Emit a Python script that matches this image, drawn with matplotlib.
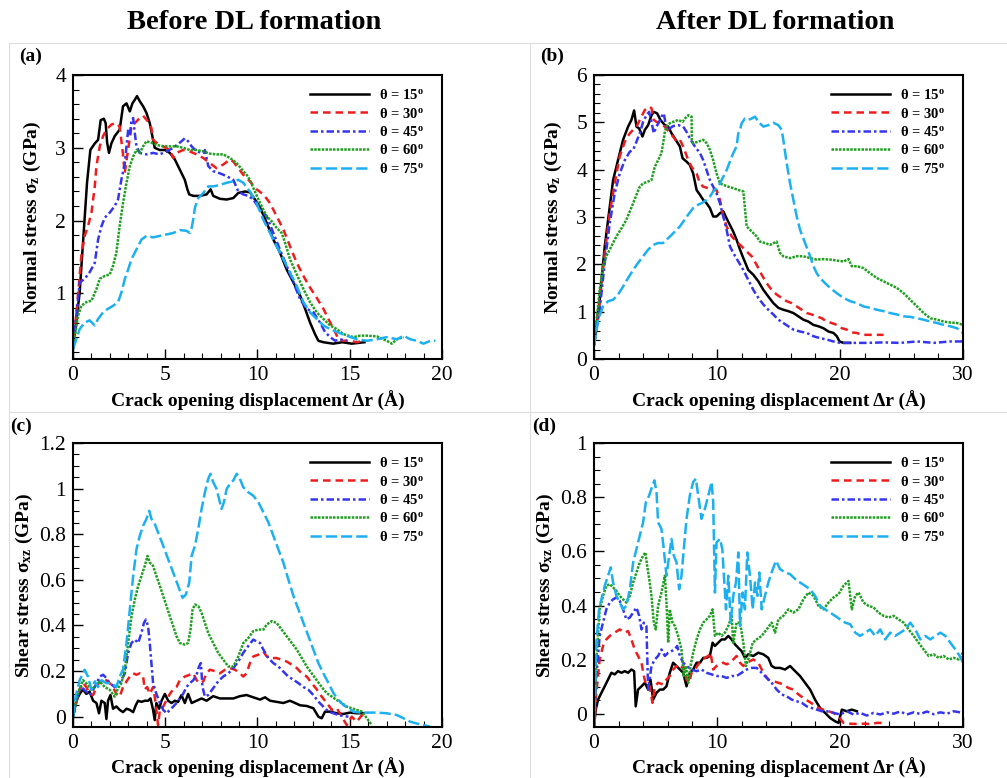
import matplotlib
matplotlib.use("Agg")
import matplotlib.pyplot as plt
from matplotlib.ticker import MultipleLocator, AutoMinorLocator
from matplotlib.lines import Line2D

plt.rcParams['font.family'] = ['Liberation Serif', 'DejaVu Serif']
plt.rcParams['mathtext.fontset'] = 'custom'
plt.rcParams['mathtext.rm'] = 'Liberation Serif'
plt.rcParams['mathtext.it'] = 'Liberation Serif:italic'
plt.rcParams['mathtext.bf'] = 'Liberation Serif:bold'

angles = [15, 30, 45, 60, 75]

# ---- (a) normal stress, before DL formation
a_x15 = [0, 0.36, 0.76, 0.94, 1.18, 1.36, 1.5, 1.67, 1.77, 1.85, 1.95, 2.08, 2.26, 2.53, 2.71, 2.9, 3.08, 3.22, 3.35, 3.47, 3.62, 3.8, 3.98, 4.16, 4.34, 4.43, 4.7, 4.98, 5.25, 5.52, 5.79, 6.06, 6.2, 6.3, 6.52, 6.88, 7.24, 7.46, 7.6, 7.96, 8.33, 8.69, 8.96, 9.32, 9.59, 9.86, 10.14, 10.5, 10.86, 11.22, 11.58, 11.95, 12.31, 12.58, 12.85, 13.12, 13.3, 13.57, 14.1, 14.6, 15.1, 15.8]
a_y15 = [0.24, 1.01, 2.52, 2.97, 3.06, 3.11, 3.38, 3.40, 3.34, 3.07, 2.93, 3.06, 3.16, 3.25, 3.57, 3.61, 3.50, 3.61, 3.66, 3.71, 3.64, 3.57, 3.48, 3.34, 3.11, 3.0, 2.97, 2.97, 2.93, 2.84, 2.70, 2.56, 2.43, 2.36, 2.34, 2.34, 2.36, 2.43, 2.34, 2.30, 2.29, 2.31, 2.38, 2.40, 2.39, 2.29, 2.18, 1.97, 1.74, 1.56, 1.33, 1.15, 0.97, 0.79, 0.6, 0.44, 0.35, 0.33, 0.31, 0.33, 0.31, 0.33]
a_x30 = [0, 0.22, 0.45, 0.63, 0.81, 1.0, 1.18, 1.27, 1.45, 1.63, 1.81, 2.08, 2.35, 2.53, 2.71, 2.8, 3.17, 3.62, 3.8, 4.07, 4.25, 4.34, 4.52, 4.89, 5.25, 5.43, 5.61, 5.97, 6.33, 6.7, 7.06, 7.42, 7.78, 8.14, 8.51, 8.69, 8.96, 9.23, 9.59, 9.95, 10.32, 10.68, 11.04, 11.4, 11.76, 12.13, 12.49, 12.85, 13.21, 13.57, 13.94, 14.21, 14.39, 14.66, 15.0, 15.38, 15.75]
a_y30 = [0.24, 0.83, 1.51, 1.79, 1.92, 2.11, 2.47, 2.75, 3.02, 3.16, 3.25, 3.32, 3.34, 3.29, 2.91, 2.65, 3.29, 3.41, 3.44, 3.36, 3.27, 3.11, 3.07, 3.02, 2.97, 2.86, 2.93, 2.97, 2.95, 2.91, 2.86, 2.79, 2.72, 2.77, 2.84, 2.81, 2.72, 2.63, 2.54, 2.43, 2.36, 2.24, 2.06, 1.88, 1.65, 1.42, 1.24, 1.08, 0.94, 0.79, 0.60, 0.47, 0.37, 0.35, 0.35, 0.33, 0.35]
a_x45 = [0, 0.14, 0.36, 0.63, 0.9, 1.18, 1.36, 1.54, 1.72, 1.99, 2.26, 2.44, 2.62, 2.81, 2.99, 3.08, 3.17, 3.26, 3.35, 3.44, 3.62, 3.98, 4.34, 4.7, 5.07, 5.43, 5.79, 6.06, 6.24, 6.43, 6.7, 7.06, 7.15, 7.33, 7.6, 7.96, 8.33, 8.69, 8.96, 9.23, 9.5, 9.77, 10.14, 10.5, 10.86, 11.22, 11.58, 11.95, 12.31, 12.67, 13.03, 13.39, 13.66, 13.94, 14.21, 14.48, 14.84]
a_y45 = [0.24, 0.6, 1.15, 1.2, 1.29, 1.42, 1.74, 1.92, 2.04, 2.11, 2.2, 2.29, 2.56, 2.79, 3.25, 3.16, 3.38, 3.41, 3.2, 3.02, 2.93, 2.91, 2.93, 2.91, 2.95, 3.0, 3.07, 3.13, 3.09, 3.02, 2.95, 2.93, 2.97, 2.75, 2.68, 2.65, 2.61, 2.56, 2.4, 2.36, 2.34, 2.29, 2.15, 2.06, 1.83, 1.6, 1.38, 1.15, 0.92, 0.79, 0.74, 0.6, 0.47, 0.4, 0.35, 0.37, 0.35]
a_x60 = [0, 0.27, 0.45, 0.72, 1.0, 1.27, 1.45, 1.72, 1.99, 2.17, 2.35, 2.53, 2.71, 2.9, 3.08, 3.26, 3.44, 3.62, 3.8, 3.98, 4.25, 4.52, 4.89, 5.25, 5.61, 5.97, 6.33, 6.7, 7.06, 7.42, 7.78, 8.14, 8.51, 8.87, 9.23, 9.41, 9.59, 9.77, 10.05, 10.32, 10.5, 10.77, 11.04, 11.31, 11.49, 11.76, 12.13, 12.49, 12.85, 13.21, 13.57, 13.94, 14.3, 14.66, 15.2, 15.57, 15.93, 16.47, 17.01, 17.28, 17.56, 17.92]
a_y60 = [0.24, 0.69, 0.83, 0.88, 0.9, 1.06, 1.2, 1.24, 1.26, 1.38, 1.56, 1.93, 2.24, 2.52, 2.75, 2.88, 2.97, 2.93, 3.02, 3.09, 3.07, 3.04, 3.02, 3.02, 3.02, 3.0, 2.97, 2.97, 2.95, 2.92, 2.91, 2.91, 2.86, 2.79, 2.68, 2.63, 2.56, 2.45, 2.29, 2.15, 2.06, 1.99, 1.9, 1.83, 1.7, 1.47, 1.26, 1.06, 0.88, 0.74, 0.65, 0.56, 0.51, 0.44, 0.4, 0.42, 0.42, 0.41, 0.35, 0.31, 0.37, 0.4]
a_x75 = [0, 0.18, 0.36, 0.63, 0.9, 1.18, 1.36, 1.63, 1.9, 2.17, 2.44, 2.62, 2.81, 2.99, 3.17, 3.35, 3.53, 3.71, 3.98, 4.34, 4.7, 5.07, 5.43, 5.79, 6.15, 6.33, 6.43, 6.52, 6.61, 6.79, 7.06, 7.33, 7.6, 7.96, 8.33, 8.69, 8.96, 9.23, 9.59, 9.95, 10.32, 10.68, 11.04, 11.4, 11.76, 12.13, 12.49, 12.85, 13.21, 13.57, 13.94, 14.3, 14.84, 15.38, 15.93, 16.47, 17.01, 17.56, 17.92, 18.28, 18.64, 19.0, 19.37, 19.64]
a_y75 = [0.24, 0.37, 0.51, 0.6, 0.63, 0.56, 0.65, 0.74, 0.79, 0.83, 0.88, 1.01, 1.2, 1.33, 1.47, 1.56, 1.65, 1.74, 1.79, 1.77, 1.79, 1.81, 1.83, 1.87, 1.86, 1.83, 1.9, 2.02, 2.18, 2.31, 2.38, 2.47, 2.47, 2.49, 2.52, 2.54, 2.56, 2.52, 2.4, 2.24, 2.01, 1.83, 1.65, 1.47, 1.29, 1.1, 0.88, 0.74, 0.65, 0.56, 0.51, 0.47, 0.42, 0.37, 0.35, 0.37, 0.4, 0.37, 0.42, 0.37, 0.35, 0.31, 0.35, 0.35]

# ---- (b) normal stress, after DL formation
b_x15 = [0, 0.46, 0.87, 1.28, 1.55, 1.95, 2.36, 2.77, 3.04, 3.26, 3.45, 3.67, 3.94, 4.13, 4.4, 4.67, 4.86, 5.13, 5.4, 5.76, 6.03, 6.3, 6.57, 6.98, 7.2, 7.52, 7.79, 8.06, 8.34, 8.61, 8.88, 9.15, 9.42, 9.69, 9.96, 10.24, 10.51, 10.78, 11.05, 11.32, 11.59, 11.87, 12.14, 12.54, 12.95, 13.36, 13.77, 14.17, 14.58, 14.99, 15.39, 15.8, 16.21, 16.62, 17.02, 17.43, 17.84, 18.25, 18.65, 19.06, 19.47, 19.74, 19.96, 20.28, 20.83]
b_y15 = [0.3, 1.25, 2.38, 3.22, 3.78, 4.2, 4.63, 4.91, 5.05, 5.25, 4.91, 4.87, 4.7, 4.84, 4.94, 5.15, 5.22, 5.19, 5.05, 4.94, 4.91, 4.77, 4.66, 4.49, 4.24, 4.17, 4.1, 3.92, 3.57, 3.47, 3.36, 3.29, 3.19, 3.01, 3.01, 3.08, 3.12, 2.97, 2.83, 2.69, 2.52, 2.31, 2.13, 1.88, 1.78, 1.64, 1.46, 1.32, 1.18, 1.08, 1.04, 1.01, 0.97, 0.9, 0.83, 0.79, 0.72, 0.69, 0.65, 0.58, 0.55, 0.48, 0.37, 0.34, 0.34]
b_x30 = [0, 0.46, 0.87, 1.28, 1.68, 2.09, 2.5, 2.91, 3.18, 3.45, 3.72, 4.13, 4.48, 4.67, 4.86, 5.08, 5.35, 5.62, 5.89, 6.16, 6.43, 6.71, 6.98, 7.25, 7.66, 7.93, 8.34, 8.61, 8.88, 9.29, 9.69, 9.96, 10.24, 10.51, 10.78, 11.19, 11.59, 12.0, 12.41, 12.82, 13.22, 13.63, 14.04, 14.44, 14.85, 15.26, 15.67, 16.07, 16.48, 16.89, 17.3, 17.7, 18.11, 18.52, 18.92, 19.33, 19.74, 20.15, 20.55, 20.96, 21.37, 21.78, 22.18, 22.73, 23.54]
b_y30 = [0.3, 1.18, 2.24, 3.08, 3.71, 4.28, 4.59, 4.77, 4.84, 4.91, 5.05, 5.26, 5.33, 5.3, 5.05, 5.01, 4.98, 4.94, 4.87, 4.77, 4.7, 4.59, 4.63, 4.49, 4.2, 4.06, 3.92, 3.71, 3.64, 3.61, 3.57, 3.57, 3.36, 3.01, 2.8, 2.59, 2.48, 2.38, 2.27, 2.17, 1.99, 1.78, 1.6, 1.46, 1.36, 1.29, 1.22, 1.18, 1.11, 1.04, 0.97, 0.94, 0.9, 0.86, 0.79, 0.76, 0.72, 0.65, 0.62, 0.56, 0.55, 0.51, 0.51, 0.51, 0.51]
b_x45 = [0, 0.46, 0.87, 1.28, 1.68, 2.09, 2.5, 2.91, 3.18, 3.45, 3.72, 3.99, 4.26, 4.48, 4.67, 4.86, 5.08, 5.29, 5.48, 5.67, 5.89, 6.16, 6.43, 6.84, 7.25, 7.52, 7.79, 8.2, 8.61, 8.88, 9.15, 9.42, 9.69, 9.96, 10.24, 10.51, 10.78, 11.05, 11.32, 11.73, 12.14, 12.54, 12.95, 13.36, 13.77, 14.17, 14.58, 14.99, 15.39, 15.8, 16.21, 16.75, 17.3, 17.84, 18.38, 18.92, 19.47, 20.01, 22.18, 23.54, 24.9, 26.26, 27.61, 28.97, 30.0]
b_y45 = [0.3, 1.04, 2.03, 2.87, 3.5, 3.92, 4.2, 4.38, 4.42, 4.59, 4.77, 5.01, 5.15, 5.22, 5.01, 4.77, 4.91, 5.01, 5.12, 5.19, 4.87, 4.87, 4.92, 4.94, 4.91, 4.8, 4.66, 4.49, 4.35, 4.2, 3.99, 3.78, 3.64, 3.5, 3.29, 3.01, 2.73, 2.38, 2.24, 2.06, 1.88, 1.67, 1.46, 1.29, 1.15, 1.04, 0.94, 0.83, 0.76, 0.69, 0.62, 0.58, 0.55, 0.48, 0.44, 0.41, 0.37, 0.34, 0.34, 0.35, 0.34, 0.37, 0.34, 0.37, 0.37]
b_x60 = [0, 0.46, 0.73, 1.0, 1.41, 1.82, 2.23, 2.63, 2.91, 3.18, 3.45, 3.72, 3.99, 4.4, 4.67, 4.94, 5.21, 5.48, 5.62, 5.76, 5.89, 6.16, 6.43, 6.84, 7.2, 7.39, 7.66, 7.93, 7.95, 8.06, 8.47, 8.88, 9.15, 9.42, 9.69, 9.96, 10.24, 10.51, 10.91, 11.32, 11.73, 12.14, 12.41, 12.68, 12.95, 13.22, 13.49, 13.9, 14.31, 14.85, 15.12, 15.39, 15.94, 16.48, 17.02, 17.57, 18.11, 18.65, 19.2, 19.74, 20.28, 20.69, 20.96, 21.37, 21.91, 22.45, 23.0, 23.54, 24.08, 24.63, 25.17, 25.71, 26.26, 26.8, 27.34, 27.89, 28.43, 28.97, 29.51, 30.0]
b_y60 = [0.3, 1.46, 1.96, 2.17, 2.38, 2.59, 2.76, 2.94, 3.12, 3.29, 3.47, 3.64, 3.71, 3.75, 3.78, 4.06, 4.2, 4.35, 4.56, 4.8, 4.91, 4.98, 5.01, 5.05, 5.01, 5.08, 5.15, 5.12, 4.63, 4.56, 4.59, 4.63, 4.56, 4.42, 4.2, 3.92, 3.71, 3.68, 3.64, 3.61, 3.57, 3.54, 2.8, 2.73, 2.66, 2.59, 2.48, 2.45, 2.41, 2.48, 2.24, 2.17, 2.13, 2.17, 2.17, 2.13, 2.1, 2.11, 2.1, 2.08, 2.06, 2.11, 1.96, 1.96, 1.92, 1.81, 1.71, 1.64, 1.57, 1.5, 1.39, 1.25, 1.11, 0.97, 0.86, 0.83, 0.79, 0.77, 0.76, 0.72]
b_x75 = [0, 0.33, 0.73, 1.14, 1.55, 1.95, 2.36, 2.77, 3.18, 3.58, 3.99, 4.4, 4.81, 5.21, 5.62, 5.89, 6.3, 6.71, 6.98, 7.25, 7.66, 8.06, 8.47, 8.74, 9.15, 9.42, 9.69, 9.96, 10.24, 10.51, 10.78, 11.05, 11.32, 11.59, 11.73, 11.87, 12.0, 12.27, 12.54, 12.82, 13.09, 13.36, 13.77, 14.17, 14.58, 14.99, 15.26, 15.39, 15.67, 15.94, 16.21, 16.48, 16.75, 17.16, 17.57, 17.84, 18.11, 18.38, 18.79, 19.2, 19.74, 20.28, 20.83, 21.37, 21.91, 22.45, 23.0, 23.54, 24.08, 24.63, 25.17, 25.71, 26.26, 26.8, 27.34, 27.89, 28.43, 28.97, 29.51, 30.0]
b_y75 = [0.27, 0.83, 1.11, 1.22, 1.25, 1.36, 1.53, 1.71, 1.88, 2.03, 2.17, 2.31, 2.41, 2.45, 2.45, 2.52, 2.62, 2.73, 2.8, 2.9, 3.05, 3.19, 3.26, 3.29, 3.36, 3.43, 3.54, 3.61, 3.71, 3.85, 3.99, 4.17, 4.35, 4.49, 4.77, 4.84, 4.98, 5.08, 5.05, 5.08, 5.12, 5.01, 4.91, 4.94, 4.99, 4.94, 4.84, 4.63, 4.13, 3.71, 3.36, 3.01, 2.73, 2.45, 2.17, 1.96, 1.81, 1.71, 1.6, 1.5, 1.39, 1.29, 1.22, 1.18, 1.11, 1.08, 1.04, 1.01, 0.97, 0.94, 0.9, 0.89, 0.86, 0.83, 0.79, 0.76, 0.72, 0.69, 0.65, 0.55]

# ---- (c) shear stress, before DL formation
c_x15 = [0, 0.18, 0.36, 0.54, 0.72, 0.9, 1.09, 1.27, 1.41, 1.54, 1.72, 1.81, 1.9, 2.03, 2.17, 2.35, 2.53, 2.71, 2.9, 3.08, 3.26, 3.4, 3.53, 3.71, 3.89, 4.07, 4.2, 4.34, 4.43, 4.52, 4.67, 4.8, 4.98, 5.16, 5.34, 5.52, 5.7, 5.88, 6.06, 6.24, 6.43, 6.7, 6.97, 7.24, 7.6, 7.96, 8.33, 8.69, 9.05, 9.41, 9.77, 10.14, 10.41, 10.68, 11.04, 11.4, 11.76, 12.04, 12.31, 12.67, 13.03, 13.3, 13.48, 13.66, 13.94, 14.3, 14.66, 15.02, 15.38, 15.75]
c_y15 = [0.0, 0.07, 0.1, 0.12, 0.1, 0.11, 0.07, 0.06, 0.015, 0.07, 0.06, -0.01, 0.07, 0.095, 0.035, 0.045, 0.03, 0.02, 0.035, 0.03, 0.02, 0.05, 0.07, 0.065, 0.07, 0.07, 0.08, 0.03, -0.015, 0.06, 0.035, 0.07, 0.1, 0.07, 0.06, 0.07, 0.065, 0.095, 0.06, 0.1, 0.06, 0.07, 0.08, 0.07, 0.09, 0.08, 0.08, 0.08, 0.09, 0.095, 0.085, 0.075, 0.085, 0.07, 0.065, 0.06, 0.07, 0.06, 0.05, 0.047, 0.037, 0.0, -0.007, 0.022, 0.022, 0.015, 0.012, 0.018, 0.015, 0.015]
c_x30 = [0, 0.18, 0.36, 0.54, 0.72, 0.9, 1.09, 1.27, 1.45, 1.63, 1.81, 1.99, 2.17, 2.35, 2.53, 2.71, 2.9, 3.08, 3.26, 3.44, 3.62, 3.8, 3.89, 4.02, 4.16, 4.34, 4.43, 4.52, 4.61, 4.71, 4.89, 5.07, 5.25, 5.43, 5.61, 5.79, 6.06, 6.33, 6.52, 6.7, 6.88, 7.06, 7.24, 7.42, 7.69, 7.96, 8.24, 8.51, 8.78, 9.05, 9.23, 9.41, 9.59, 9.77, 10.05, 10.32, 10.5, 10.77, 11.04, 11.31, 11.58, 11.86, 12.13, 12.4, 12.67, 12.94, 13.21, 13.48, 13.76, 14.03, 14.3, 14.57, 14.84, 15.11, 15.38, 15.66, 15.84]
c_y30 = [0.0, 0.06, 0.12, 0.15, 0.13, 0.1, 0.095, 0.13, 0.155, 0.147, 0.16, 0.147, 0.13, 0.1, 0.088, 0.13, 0.155, 0.176, 0.19, 0.184, 0.19, 0.176, 0.12, 0.13, 0.1, 0.13, 0.088, 0.03, -0.037, 0.03, 0.044, 0.073, 0.1, 0.12, 0.13, 0.16, 0.176, 0.184, 0.19, 0.16, 0.147, 0.155, 0.19, 0.206, 0.2, 0.19, 0.206, 0.213, 0.206, 0.19, 0.176, 0.19, 0.235, 0.264, 0.272, 0.286, 0.264, 0.257, 0.257, 0.25, 0.242, 0.228, 0.213, 0.19, 0.176, 0.147, 0.12, 0.088, 0.06, 0.03, 0.037, 0.0, -0.037, 0.0, -0.022, 0.007, 0.0]
c_x45 = [0, 0.18, 0.45, 0.72, 0.9, 1.18, 1.45, 1.63, 1.81, 1.99, 2.26, 2.53, 2.81, 2.99, 3.17, 3.35, 3.53, 3.71, 3.84, 3.95, 4.07, 4.16, 4.25, 4.34, 4.52, 4.71, 4.89, 5.07, 5.25, 5.43, 5.61, 5.79, 5.97, 6.15, 6.33, 6.52, 6.7, 6.83, 6.93, 7.02, 7.15, 7.33, 7.6, 7.87, 8.14, 8.42, 8.69, 8.96, 9.23, 9.5, 9.77, 9.95, 10.14, 10.32, 10.59, 10.86, 11.13, 11.4, 11.67, 11.95, 12.22, 12.49, 12.76, 13.03, 13.3, 13.57, 13.85, 14.12, 14.39, 14.66, 14.93]
c_y45 = [0.0, 0.073, 0.13, 0.11, 0.095, 0.13, 0.176, 0.184, 0.169, 0.147, 0.13, 0.147, 0.19, 0.28, 0.323, 0.338, 0.323, 0.367, 0.41, 0.426, 0.397, 0.323, 0.235, 0.147, 0.1, 0.06, 0.03, 0.015, 0.03, 0.044, 0.06, 0.08, 0.1, 0.13, 0.147, 0.16, 0.184, 0.22, 0.235, 0.13, 0.088, 0.095, 0.125, 0.155, 0.176, 0.19, 0.213, 0.242, 0.28, 0.31, 0.338, 0.33, 0.323, 0.294, 0.257, 0.235, 0.22, 0.198, 0.176, 0.162, 0.147, 0.13, 0.118, 0.095, 0.066, 0.044, 0.022, 0.015, 0.007, 0.003, 0.0]
c_x60 = [0, 0.18, 0.36, 0.54, 0.72, 1.0, 1.27, 1.45, 1.72, 1.99, 2.26, 2.44, 2.62, 2.81, 2.99, 3.17, 3.35, 3.53, 3.71, 3.89, 4.04, 4.16, 4.34, 4.52, 4.71, 4.89, 5.07, 5.25, 5.43, 5.61, 5.79, 6.06, 6.24, 6.37, 6.48, 6.61, 6.79, 6.97, 7.15, 7.33, 7.6, 7.87, 8.14, 8.42, 8.69, 8.96, 9.23, 9.5, 9.77, 10.05, 10.32, 10.5, 10.77, 11.04, 11.31, 11.58, 11.86, 12.13, 12.4, 12.67, 12.94, 13.21, 13.48, 13.76, 14.03, 14.3, 14.57, 14.84, 15.11, 15.38, 15.66, 15.93, 16.2]
c_y60 = [0.0, 0.073, 0.125, 0.16, 0.147, 0.118, 0.14, 0.155, 0.13, 0.118, 0.088, 0.125, 0.147, 0.206, 0.323, 0.44, 0.514, 0.573, 0.617, 0.661, 0.705, 0.676, 0.661, 0.617, 0.573, 0.529, 0.485, 0.44, 0.397, 0.353, 0.323, 0.316, 0.323, 0.382, 0.47, 0.492, 0.485, 0.455, 0.411, 0.367, 0.323, 0.28, 0.25, 0.22, 0.22, 0.264, 0.323, 0.345, 0.375, 0.382, 0.382, 0.404, 0.419, 0.411, 0.382, 0.353, 0.323, 0.294, 0.257, 0.22, 0.19, 0.16, 0.13, 0.103, 0.088, 0.073, 0.06, 0.044, 0.037, 0.03, 0.022, -0.007, -0.037]
c_x75 = [0, 0.14, 0.36, 0.63, 0.81, 1.0, 1.18, 1.36, 1.54, 1.81, 2.08, 2.35, 2.53, 2.71, 2.9, 3.08, 3.26, 3.44, 3.62, 3.8, 3.98, 4.13, 4.25, 4.43, 4.61, 4.89, 5.16, 5.43, 5.7, 5.94, 6.12, 6.3, 6.43, 6.61, 6.79, 6.97, 7.15, 7.33, 7.45, 7.6, 7.78, 7.96, 8.05, 8.18, 8.33, 8.51, 8.69, 8.87, 9.01, 9.23, 9.5, 9.77, 10.05, 10.32, 10.59, 10.86, 11.13, 11.4, 11.67, 11.95, 12.22, 12.49, 12.76, 13.03, 13.3, 13.57, 13.85, 14.12, 14.39, 14.66, 14.93, 15.2, 15.57, 15.93, 16.47, 17.01, 17.56, 17.92, 18.28, 18.64, 19.0, 19.37]
c_y75 = [0.0, 0.088, 0.16, 0.206, 0.176, 0.118, 0.155, 0.13, 0.16, 0.147, 0.147, 0.13, 0.176, 0.206, 0.323, 0.47, 0.617, 0.734, 0.793, 0.837, 0.867, 0.903, 0.867, 0.845, 0.808, 0.749, 0.69, 0.632, 0.573, 0.521, 0.536, 0.588, 0.705, 0.749, 0.823, 0.911, 0.984, 1.043, 1.065, 1.028, 0.999, 0.94, 0.911, 0.94, 0.999, 1.021, 1.036, 1.065, 1.05, 1.006, 0.984, 0.969, 0.94, 0.896, 0.852, 0.793, 0.734, 0.676, 0.602, 0.529, 0.47, 0.411, 0.353, 0.294, 0.235, 0.19, 0.147, 0.103, 0.073, 0.051, 0.037, 0.022, 0.018, 0.018, 0.018, 0.015, 0.007, -0.007, -0.022, -0.03, -0.037, -0.044]

# ---- (d) shear stress, after DL formation
d_x15 = [0, 0.14, 0.33, 0.6, 0.87, 1.14, 1.41, 1.68, 1.95, 2.23, 2.5, 2.77, 3.04, 3.26, 3.39, 3.58, 3.86, 4.13, 4.4, 4.59, 4.81, 5.08, 5.35, 5.62, 5.89, 6.16, 6.43, 6.71, 6.98, 7.25, 7.52, 7.79, 8.06, 8.34, 8.61, 8.88, 9.15, 9.42, 9.64, 9.83, 10.1, 10.37, 10.64, 10.92, 11.19, 11.46, 11.73, 12.0, 12.27, 12.54, 12.95, 13.36, 13.77, 14.17, 14.44, 14.72, 15.12, 15.53, 15.94, 16.35, 16.75, 17.16, 17.57, 17.97, 18.38, 18.79, 19.2, 19.6, 19.88, 20.15, 20.55, 20.96, 21.37]
d_y15 = [-0.046, 0.016, 0.053, 0.078, 0.102, 0.127, 0.152, 0.146, 0.158, 0.152, 0.158, 0.152, 0.164, 0.158, 0.028, 0.09, 0.102, 0.115, 0.09, 0.127, 0.053, 0.078, 0.09, 0.09, 0.102, 0.152, 0.189, 0.177, 0.164, 0.152, 0.102, 0.152, 0.164, 0.189, 0.189, 0.207, 0.207, 0.214, 0.263, 0.251, 0.263, 0.275, 0.275, 0.288, 0.275, 0.257, 0.244, 0.232, 0.207, 0.22, 0.214, 0.226, 0.22, 0.207, 0.177, 0.17, 0.17, 0.164, 0.177, 0.158, 0.14, 0.115, 0.09, 0.053, 0.022, 0.004, -0.015, -0.027, -0.033, 0.016, 0.01, 0.016, 0.01]
d_x30 = [0, 0.19, 0.46, 0.73, 1.0, 1.28, 1.68, 2.09, 2.5, 2.77, 3.04, 3.31, 3.58, 3.86, 4.05, 4.26, 4.53, 4.75, 4.94, 5.21, 5.62, 5.89, 6.16, 6.43, 6.71, 6.98, 7.25, 7.52, 7.74, 7.93, 8.2, 8.47, 8.74, 9.01, 9.29, 9.48, 9.69, 9.96, 10.24, 10.51, 10.78, 11.05, 11.32, 11.59, 11.87, 12.14, 12.41, 12.68, 12.95, 13.36, 13.77, 14.17, 14.58, 14.99, 15.39, 15.8, 16.21, 16.62, 17.02, 17.43, 17.84, 18.25, 18.65, 19.06, 19.47, 19.88, 20.28, 20.83, 21.37, 21.91, 22.45, 23.0, 23.54]
d_y30 = [-0.046, 0.078, 0.201, 0.251, 0.275, 0.288, 0.3, 0.312, 0.3, 0.306, 0.275, 0.238, 0.214, 0.189, 0.14, 0.102, 0.102, 0.041, 0.102, 0.115, 0.109, 0.127, 0.14, 0.164, 0.177, 0.164, 0.177, 0.127, 0.115, 0.152, 0.164, 0.183, 0.195, 0.207, 0.214, 0.226, 0.164, 0.177, 0.183, 0.189, 0.183, 0.189, 0.201, 0.214, 0.189, 0.177, 0.189, 0.195, 0.201, 0.189, 0.152, 0.127, 0.121, 0.115, 0.109, 0.096, 0.09, 0.072, 0.059, 0.047, 0.035, 0.022, 0.016, 0.01, 0.004, -0.009, -0.033, -0.036, -0.037, -0.036, -0.037, -0.033, -0.033]
d_x45 = [0, 0.19, 0.46, 0.73, 1.0, 1.28, 1.55, 1.82, 2.09, 2.36, 2.63, 2.91, 3.18, 3.45, 3.67, 3.86, 4.05, 4.26, 4.4, 4.67, 4.94, 5.21, 5.48, 5.76, 6.03, 6.3, 6.57, 6.76, 6.98, 7.25, 7.52, 7.93, 8.34, 8.74, 9.15, 9.56, 9.96, 10.37, 10.78, 11.19, 11.59, 12.0, 12.41, 12.82, 13.22, 13.63, 14.04, 14.44, 14.85, 15.26, 15.67, 16.07, 16.48, 16.89, 17.3, 17.7, 18.11, 18.52, 18.92, 19.47, 20.01, 20.55, 21.1, 21.64, 22.18, 22.73, 23.27, 23.81, 24.36, 24.9, 25.44, 25.99, 26.53, 27.07, 27.61, 28.16, 28.7, 29.24, 30.0]
d_y45 = [-0.046, 0.14, 0.288, 0.337, 0.386, 0.411, 0.423, 0.43, 0.417, 0.386, 0.349, 0.356, 0.374, 0.393, 0.362, 0.312, 0.337, 0.325, 0.09, 0.177, 0.201, 0.214, 0.238, 0.214, 0.226, 0.232, 0.238, 0.251, 0.214, 0.189, 0.177, 0.164, 0.158, 0.164, 0.152, 0.146, 0.14, 0.14, 0.133, 0.14, 0.14, 0.152, 0.164, 0.17, 0.17, 0.152, 0.133, 0.115, 0.09, 0.072, 0.065, 0.053, 0.047, 0.041, 0.028, 0.022, 0.016, 0.01, 0.01, 0.004, -0.002, 0.01, -0.002, 0.004, -0.006, 0.004, -0.002, 0.006, 0.001, 0.009, -0.002, 0.006, 0.0, 0.009, -0.001, 0.006, 0.001, 0.01, 0.004]
d_x60 = [0, 0.19, 0.46, 0.73, 1.0, 1.28, 1.55, 1.82, 2.09, 2.36, 2.63, 2.91, 3.18, 3.45, 3.72, 3.99, 4.18, 4.32, 4.53, 4.67, 4.86, 5.02, 5.21, 5.48, 5.76, 5.89, 6.03, 6.16, 6.38, 6.57, 6.84, 7.11, 7.3, 7.47, 7.66, 7.85, 8.06, 8.34, 8.61, 8.88, 9.15, 9.42, 9.64, 9.83, 10.1, 10.37, 10.64, 10.92, 11.19, 11.32, 11.59, 11.87, 12.14, 12.35, 12.63, 12.9, 13.22, 13.63, 14.04, 14.44, 14.72, 14.99, 15.39, 15.8, 16.21, 16.62, 17.02, 17.43, 17.84, 18.25, 18.65, 19.06, 19.47, 19.88, 20.28, 20.69, 20.96, 21.24, 21.51, 21.91, 22.32, 22.73, 23.13, 23.54, 23.95, 24.36, 24.76, 25.17, 25.58, 25.99, 26.39, 26.8, 27.21, 27.61, 28.02, 28.43, 28.84, 29.24, 29.65, 30.0]
d_y60 = [-0.046, 0.201, 0.386, 0.436, 0.473, 0.479, 0.467, 0.454, 0.436, 0.423, 0.411, 0.436, 0.485, 0.522, 0.559, 0.584, 0.596, 0.547, 0.485, 0.436, 0.337, 0.312, 0.399, 0.448, 0.51, 0.411, 0.263, 0.386, 0.337, 0.325, 0.288, 0.238, 0.14, 0.177, 0.115, 0.177, 0.226, 0.275, 0.312, 0.337, 0.349, 0.362, 0.386, 0.288, 0.3, 0.288, 0.3, 0.325, 0.362, 0.263, 0.337, 0.337, 0.263, 0.177, 0.214, 0.263, 0.275, 0.288, 0.312, 0.337, 0.3, 0.349, 0.362, 0.386, 0.374, 0.386, 0.423, 0.448, 0.436, 0.399, 0.386, 0.411, 0.43, 0.442, 0.473, 0.491, 0.386, 0.436, 0.448, 0.411, 0.399, 0.393, 0.374, 0.362, 0.356, 0.362, 0.349, 0.337, 0.312, 0.288, 0.263, 0.238, 0.214, 0.22, 0.207, 0.214, 0.201, 0.207, 0.201, 0.226]
d_x75 = [0, 0.19, 0.41, 0.6, 0.87, 1.14, 1.36, 1.55, 1.82, 2.09, 2.36, 2.63, 2.91, 3.18, 3.45, 3.72, 3.99, 4.21, 4.48, 4.75, 4.91, 5.08, 5.21, 5.48, 5.67, 5.89, 6.11, 6.3, 6.49, 6.71, 6.92, 7.11, 7.3, 7.52, 7.79, 8.06, 8.28, 8.47, 8.74, 9.01, 9.29, 9.56, 9.69, 9.83, 9.96, 10.24, 10.43, 10.56, 10.73, 10.92, 11.11, 11.32, 11.54, 11.73, 11.87, 12.08, 12.27, 12.46, 12.68, 12.9, 13.09, 13.28, 13.44, 13.63, 13.9, 14.17, 14.44, 14.64, 14.8, 15.12, 15.53, 15.94, 16.35, 16.75, 17.16, 17.57, 17.97, 18.38, 18.79, 19.2, 19.6, 20.01, 20.42, 20.83, 21.24, 21.64, 22.05, 22.45, 22.86, 23.27, 23.68, 24.08, 24.49, 24.9, 25.31, 25.71, 26.12, 26.53, 26.94, 27.34, 27.75, 28.16, 28.57, 28.97, 29.38, 29.73, 30.0]
d_y75 = [-0.046, 0.263, 0.386, 0.423, 0.473, 0.51, 0.541, 0.485, 0.436, 0.411, 0.386, 0.399, 0.46, 0.559, 0.609, 0.658, 0.707, 0.781, 0.806, 0.843, 0.862, 0.819, 0.707, 0.683, 0.609, 0.51, 0.584, 0.646, 0.584, 0.559, 0.46, 0.51, 0.609, 0.72, 0.806, 0.856, 0.868, 0.806, 0.72, 0.757, 0.806, 0.856, 0.781, 0.448, 0.633, 0.646, 0.609, 0.51, 0.386, 0.51, 0.337, 0.436, 0.485, 0.596, 0.325, 0.448, 0.386, 0.596, 0.51, 0.386, 0.485, 0.436, 0.522, 0.386, 0.436, 0.485, 0.522, 0.547, 0.565, 0.535, 0.522, 0.516, 0.498, 0.485, 0.473, 0.46, 0.436, 0.399, 0.386, 0.374, 0.362, 0.349, 0.337, 0.331, 0.3, 0.288, 0.3, 0.312, 0.288, 0.312, 0.275, 0.3, 0.288, 0.3, 0.312, 0.337, 0.312, 0.275, 0.288, 0.275, 0.288, 0.3, 0.288, 0.263, 0.238, 0.214, 0.189]

colors = ['#000000', '#ee1d1d', '#3535ee', '#1f9f1f', '#1cb0f0']
styles = ['-', (0, (3, 2)), (0, (3, 1.2, 1, 1.2)), (0, (1, 0.5)), (0, (4.5, 1.6))]

panels = [
    ('(a)', [(a_x15, a_y15), (a_x30, a_y30), (a_x45, a_y45), (a_x60, a_y60), (a_x75, a_y75)]),
    ('(b)', [(b_x15, b_y15), (b_x30, b_y30), (b_x45, b_y45), (b_x60, b_y60), (b_x75, b_y75)]),
    ('(c)', [(c_x15, c_y15), (c_x30, c_y30), (c_x45, c_y45), (c_x60, c_y60), (c_x75, c_y75)]),
    ('(d)', [(d_x15, d_y15), (d_x30, d_y30), (d_x45, d_y45), (d_x60, d_y60), (d_x75, d_y75)]),
]

fig = plt.figure(figsize=(10.07, 7.78), dpi=100)

# light frames around each sub-figure
for seg in [([9, 1007], [43, 43]), ([9, 1007], [412, 412]), ([9, 9], [43, 778]), ([530, 530], [43, 778])]:
    fig.add_artist(Line2D([v / 1007 for v in seg[0]], [1 - v / 778 for v in seg[1]],
                          color='#dddddd', lw=0.8))

boxes = [(0.0725, 0.5386), (0.5899, 0.5386), (0.0725, 0.0656), (0.5899, 0.0656)]
xlims = [(0, 20), (0, 30), (0, 20), (0, 30)]
ylims = [(0.1, 4), (0, 6), (-0.045, 1.2), (-0.048, 1.0)]
ylabels = ['Normal stress σ$_\\mathregular{z}$ (GPa)', 'Normal stress σ$_\\mathregular{z}$ (GPa)',
           'Shear stress σ$_\\mathregular{xz}$ (GPa)', 'Shear stress σ$_\\mathregular{xz}$ (GPa)']
ypads = [9, 9, 3, 3]
xmaj = [5, 10, 5, 10]
ymaj = [1, 1, 0.2, 0.2]
yminor = [5, 5, 4, 4]
label_pos = [(0.019, 0.927), (0.536, 0.927), (0.010, 0.452), (0.528, 0.452)]

for i, (tag, curves) in enumerate(panels):
    ax = fig.add_axes([boxes[i][0], boxes[i][1], 0.3664, 0.365])
    for k, (xs, ys) in enumerate(curves):
        ax.plot(xs, ys, color=colors[k], linestyle=styles[k], lw=1.8,
                label='θ = %d$^\\mathregular{o}$' % angles[k])
    ax.set_xlim(*xlims[i])
    ax.set_ylim(*ylims[i])
    ax.xaxis.set_major_locator(MultipleLocator(xmaj[i]))
    ax.xaxis.set_minor_locator(AutoMinorLocator(5))
    ax.yaxis.set_major_locator(MultipleLocator(ymaj[i]))
    ax.yaxis.set_minor_locator(AutoMinorLocator(yminor[i]))
    ax.yaxis.set_major_formatter(plt.FuncFormatter(lambda v, p: ('%g' % round(v, 2))))
    ax.tick_params(which='both', direction='in', top=False, right=False, labelsize=15.5)
    ax.tick_params(which='major', length=7, width=1, pad=5)
    ax.tick_params(which='minor', length=4, width=0.8)
    for s in ax.spines.values():
        s.set_linewidth(1.5)
    ax.set_xlabel('Crack opening displacement Δr (Å)', fontsize=14, fontweight='bold', labelpad=4)
    ax.set_ylabel(ylabels[i], fontsize=14, fontweight='bold', labelpad=ypads[i])
    leg = ax.legend(loc='upper right', frameon=False, handlelength=4.0,
                    handletextpad=0.7, labelspacing=0.3, borderaxespad=0.6,
                    bbox_to_anchor=(0.99, 1.005),
                    prop={'weight': 'bold', 'size': 10.5})
    fig.text(label_pos[i][0], label_pos[i][1], tag, fontsize=14, fontweight='bold',
             va='center', ha='left')

fig.text(254 / 1007, 0.971, 'Before DL formation', fontsize=20.5, fontweight='bold', ha='center', va='center')
fig.text(775 / 1007, 0.971, 'After DL formation', fontsize=20.5, fontweight='bold', ha='center', va='center')

fig.savefig('out.png', dpi=100)
